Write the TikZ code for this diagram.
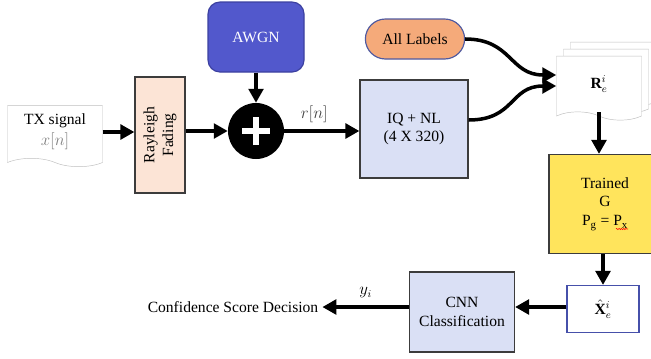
\documentclass[tikz,border=0pt]{standalone}
\usepackage{fontspec}
\setmainfont{Liberation Serif}
\usetikzlibrary{shapes.symbols,shapes.misc,arrows.meta,decorations.pathmorphing}
\definecolor{peach}{RGB}{252,228,214}
\definecolor{awgnblue}{RGB}{82,88,204}
\definecolor{awgnline}{RGB}{60,64,160}
\definecolor{lav}{RGB}{218,224,245}
\definecolor{labfill}{RGB}{245,170,122}
\definecolor{labline}{RGB}{80,90,160}
\definecolor{gyellow}{RGB}{255,228,92}
\definecolor{xline}{RGB}{70,80,170}
\definecolor{docgray}{RGB}{190,190,190}
\definecolor{boxgray}{RGB}{60,60,60}

\begin{document}
\begin{tikzpicture}[x=0.03cm,y=-0.03cm,font=\fontsize{13.3}{16}\selectfont]
	\tikzstyle{doc}=[tape, tape bend top=none, tape bend bottom=out and in, tape bend height=0.25cm, draw=docgray, fill=white, align=center]
	\tikzstyle{block}=[rectangle, draw=boxgray, line width=1pt, align=center]
	\tikzstyle{arr}=[line width=3pt, -{Triangle[length=0.42cm,width=0.44cm]}]
	
	\clip (0,0) rectangle (651,358);
	
	% transmitter and channel
	\node[doc, minimum width=2.85cm, minimum height=1.83cm] (tx) at (55,132) {TX signal\\[2pt]\textcolor{gray}{$x[n]$}};
	\node[block, fill=peach, rotate=90, minimum width=3.48cm, minimum height=1.5cm] (ray) at (160,135) {Rayleigh\\Fading};
	\node[circle, fill=black, minimum size=1.68cm] (sum) at (256,131) {};
	\draw[white, line width=0.18cm] ([xshift=-0.42cm]sum.center) -- ([xshift=0.42cm]sum.center)
		([yshift=-0.42cm]sum.center) -- ([yshift=0.42cm]sum.center);
	\node[block, fill=awgnblue, draw=awgnline, rounded corners=0.36cm, text=white, minimum width=2.88cm, minimum height=2.1cm] (awgn) at (256,37) {AWGN};
	\node[block, fill=lav, minimum width=3.24cm, minimum height=2.94cm] (iq) at (414,129) {IQ + NL\\(4 X 320)};
	\node[rounded rectangle, draw=labline, line width=1pt, fill=labfill, minimum width=3.21cm, minimum height=1.2cm] (lab) at (415,39) {All Labels};
	
	% stacked images
	\node[doc, minimum width=2.55cm, minimum height=1.92cm] (r3) at (613,70) {};
	\node[doc, minimum width=2.55cm, minimum height=1.92cm] (r2) at (606,77) {};
	\node[doc, minimum width=2.55cm, minimum height=1.92cm] (r) at (599,84) {$\mathbf{R}_e^i$};
	
	% generator and classifier
	\node[block, fill=gyellow, minimum width=3.36cm, minimum height=2.97cm] (gen) at (605,204) {Trained\\G\\P\textsubscript{g} = P\textsubscript{x}};
	\draw[red, line width=0.5pt, decorate, decoration={snake, amplitude=0.5pt, segment length=2pt}]
		([shift={(11,25)}]gen.center) -- ([shift={(23,25)}]gen.center);
	\node[block, draw=xline, fill=white, minimum width=2.16cm, minimum height=1.41cm] (xh) at (603,309) {$\hat{\mathbf{X}}_e^i$};
	\node[block, fill=lav, minimum width=3.15cm, minimum height=2.4cm] (cnn) at (462,312) {CNN\\Classification};
	\node (conf) at (233,307) {Confidence Score Decision};
	
	% connectors
	\draw[arr] (tx.east) -- (tx.east -| ray.north);
	\draw[arr] (sum -| ray.south) -- (sum.west);
	\draw[arr] (awgn.south) -- (sum.north);
	\draw[arr] (sum.east) -- (sum -| iq.west) node[pos=0.4, above=2pt, text=darkgray] {$r[n]$};
	\draw[arr] (lab.east) .. controls +(1.4cm,0) and +(-1.4cm,0) .. ([yshift=0.27cm]r.west);
	\draw[arr] ([yshift=0.27cm]iq.east) .. controls +(1.4cm,0) and +(-1.4cm,0) .. ([yshift=-0.06cm]r.west);
	\draw[arr] (r.south) -- (r.south |- gen.north);
	\draw[arr] (xh.north |- gen.south) -- (xh.north);
	\draw[arr] ([yshift=0.06cm]xh.west) -- ([yshift=0.06cm]xh.west -| cnn.east);
	\draw[arr] (cnn.west |- conf) -- (conf.east) node[midway, above=3pt] {$y_i$};
\end{tikzpicture}
\end{document}
